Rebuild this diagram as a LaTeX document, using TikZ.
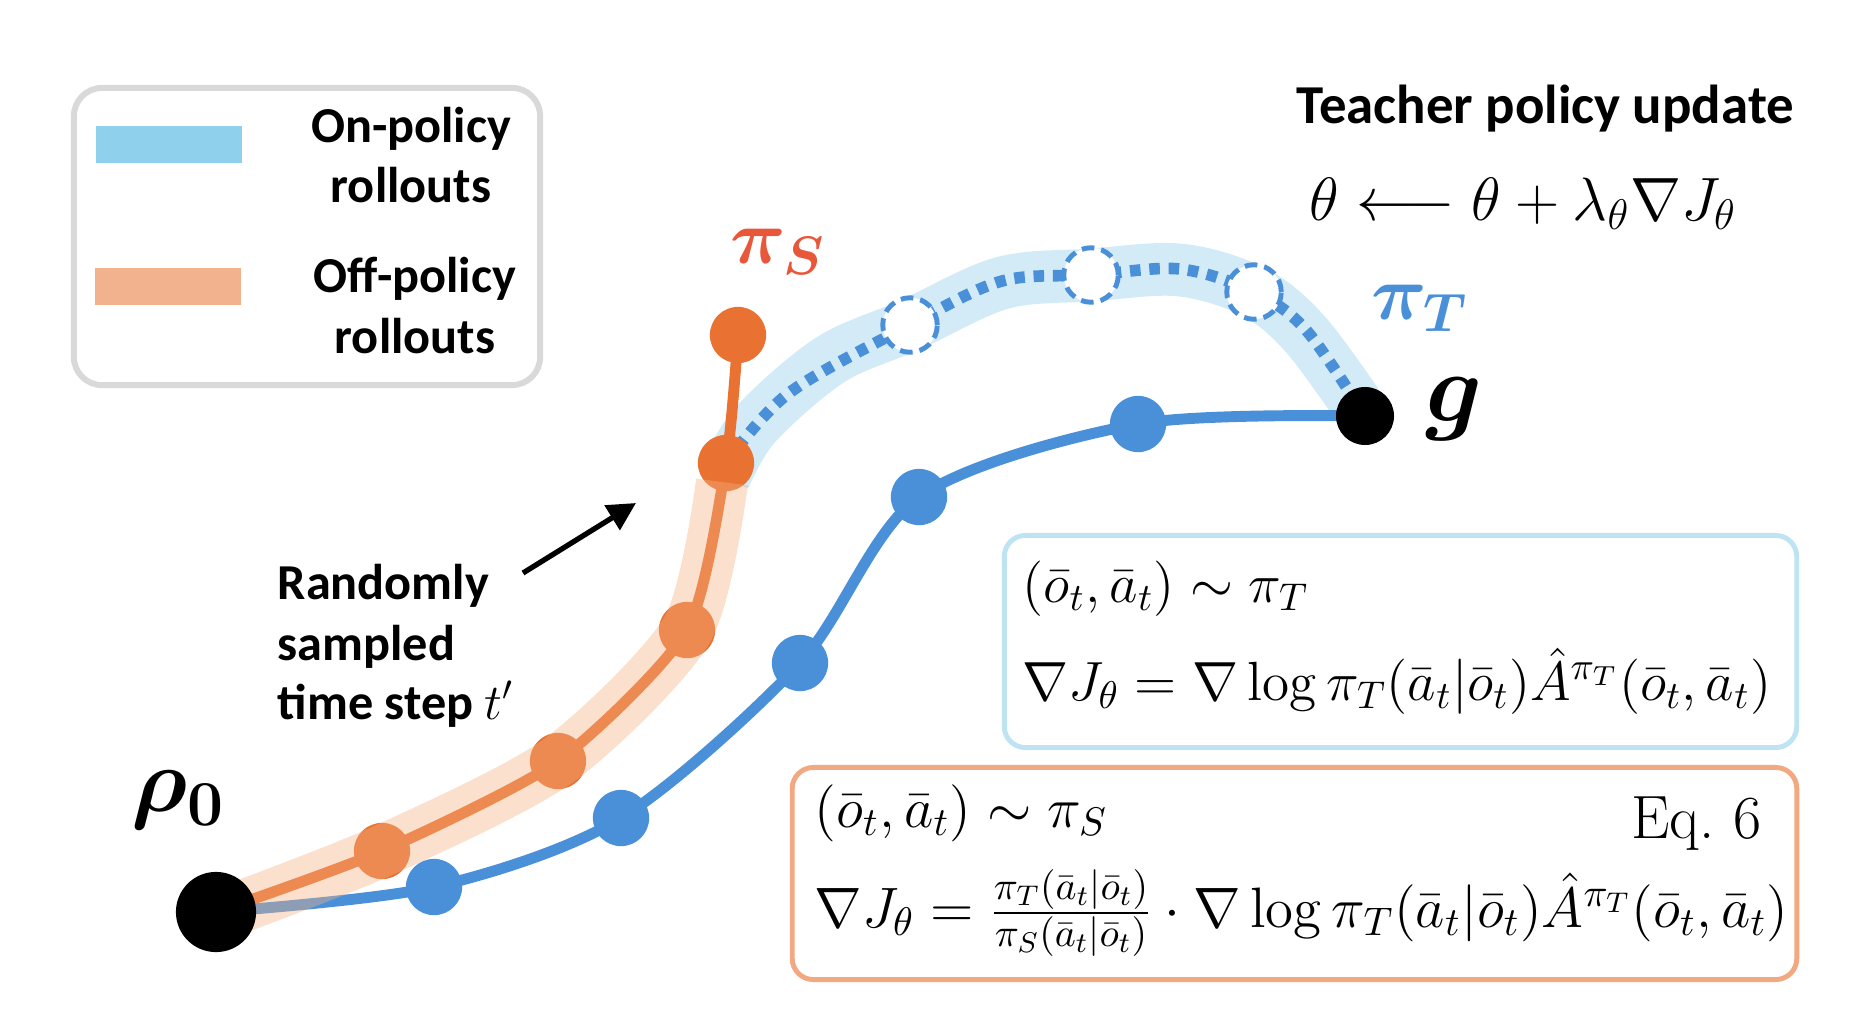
\RequirePackage{fix-cm}
\documentclass[tikz,border=0pt]{standalone}
\usepackage[no-math]{fontspec}
\newfontfamily\carlito{Carlito}
\usepackage{amsmath,bm}
\usetikzlibrary{arrows.meta}

\definecolor{tblue}{HTML}{4A90D9}
\definecolor{sorange}{HTML}{E97132}
\definecolor{bandblue}{HTML}{D2EBF7}
\definecolor{bandorange}{HTML}{F4B183}
\definecolor{legblue}{HTML}{8FD0EC}
\definecolor{legorange}{HTML}{F2B28E}
\definecolor{leggray}{HTML}{D9D9D9}
\definecolor{boxblue}{HTML}{BEE3F3}
\definecolor{boxorange}{HTML}{F2A880}
\definecolor{pisred}{HTML}{E8573A}

\begin{document}
\begin{tikzpicture}[x=0.01cm,y=-0.01cm,
  dot/.style={circle,inner sep=0pt,minimum size=16pt},
  bdot/.style={dot,fill=tblue},
  odot/.style={dot,fill=sorange},
  hollow/.style={circle,inner sep=0pt,minimum size=15.5pt,draw=tblue,fill=white,line width=1.4pt,dash pattern=on 3.6pt off 2pt},
  blackdot/.style={circle,inner sep=0pt,fill=black},
  legtext/.style={inner sep=0pt,font=\carlito\bfseries\fontsize{14.3}{17}\selectfont},
  mathtext/.style={inner sep=0pt,font=\fontsize{16.2}{19}\selectfont},
  bluemath/.style={inner sep=0pt,font=\fontsize{15.7}{19}\selectfont},
  eqbox/.style={rounded corners=6pt,line width=1.4pt,inner sep=0pt},
  solidpath/.style={line width=3.1pt,line cap=round},
  band/.style={line width=15pt,line cap=butt}
]
\useasboundingbox (0,0) rectangle (1849,1018);

% named positions
\coordinate (R0) at (216,912);
\coordinate (G) at (1365,416);
\coordinate (T1) at (434,887);
\coordinate (T2) at (621,818);
\coordinate (T3) at (800,663);
\coordinate (T4) at (919,497);
\coordinate (T5) at (1138,424);
\coordinate (S1) at (382,851);
\coordinate (S2) at (558,761);
\coordinate (S3) at (687,630);
\coordinate (S4) at (726,463);
\coordinate (S5) at (738,335);
\coordinate (H1) at (910,325);
\coordinate (H2) at (1091,275);
\coordinate (H3) at (1254,292);
\coordinate (BB0) at (724,478);

% on-policy band
\draw[bandblue,band] plot[smooth,tension=0.55] coordinates {(BB0) (755,425) (830,360) (H1) (1002,283) (H2) (1180,270) (H3) (1306,335) (G)};

% teacher rollout
\draw[tblue,solidpath] plot[smooth,tension=0.5] coordinates {(R0) (T1) (T2) (T3) (T4) (T5) (G)};
\node[bdot] (t1) at (T1) {};
\node[bdot] (t2) at (T2) {};
\node[bdot] (t3) at (T3) {};
\node[bdot] (t4) at (T4) {};
\node[bdot] (t5) at (T5) {};

% dotted teacher continuation
\draw[tblue,line width=3.3pt,dash pattern=on 3pt off 2.5pt] plot[smooth,tension=0.55] coordinates {(S4) (789,393) (H1) (1002,281) (H2) (1180,269) (H3) (1306,330) (G)};
\node[hollow] (h1) at (H1) {};
\node[hollow] (h2) at (H2) {};
\node[hollow] (h3) at (H3) {};

% student rollout
\draw[sorange,solidpath] plot[smooth,tension=0.4] coordinates {(R0) (S1) (S2) (S3) (S4) (S5)};
\node[odot] (s1) at (S1) {};
\node[odot] (s2) at (S2) {};
\node[odot] (s3) at (S3) {};
\node[odot] (s4) at (S4) {};
\node[odot] (s5) at (S5) {};

% off-policy band
\draw[bandorange,band,opacity=0.4,line width=14.8pt] plot[smooth,tension=0.45] coordinates {(232,910) (S1) (S2) (S3) (722,482)};

% start and goal
\node[blackdot,minimum size=22.8pt] (r0) at (R0) {};
\node[blackdot,minimum size=16.5pt] (g) at (G) {};

% labels
\node[font=\fontsize{26}{30}\selectfont] (lrho) at (178,800) {$\bm{\rho_0}$};
\node[font=\fontsize{28}{32}\selectfont] (lg) at (1454,409) {$\bm{g}$};
\node[text=pisred,font=\fontsize{22}{26}\selectfont] (lpiS) at (778,252) {$\bm{\pi_S}$};
\node[text=tblue,font=\fontsize{22}{26}\selectfont] (lpiT) at (1420,308) {$\bm{\pi_T}$};

% legend
\node[draw=leggray,line width=1.7pt,rounded corners=8pt,minimum width=4.66cm,minimum height=2.97cm,inner sep=0pt] (legend) at (307,236.5) {};
\node[fill=legblue,minimum width=1.46cm,minimum height=0.37cm,inner sep=0pt] (legb) at (169,144.5) {};
\node[fill=legorange,minimum width=1.46cm,minimum height=0.37cm,inner sep=0pt] (lego) at (168,286.5) {};
\node[legtext,anchor=base] (lon1) at (411,142) {On-policy};
\node[legtext,anchor=base] (lon2) at (411,202) {rollouts};
\node[legtext,anchor=base] (loff1) at (415,292) {Off-policy};
\node[legtext,anchor=base] (loff2) at (415,353) {rollouts};

% sampled time step annotation
\node[legtext,anchor=base west] (rand1) at (277,599) {Randomly};
\node[legtext,anchor=base west] (rand2) at (277,660) {sampled};
\node[legtext,anchor=base west] (rand3) at (277,719) {time step $t'$};
\coordinate (arrtail) at (523,573);
\coordinate (arrhead) at (636,503);
\draw[line width=1.5pt,-{Triangle[length=8pt,width=8pt]}] (arrtail) -- (arrhead);

% teacher update
\node[inner sep=0pt,font=\carlito\bfseries\fontsize{15.6}{18}\selectfont,anchor=base west] (title) at (1296,123) {Teacher policy update};
\node[inner sep=0pt,font=\fontsize{17.4}{20}\selectfont,anchor=base west] (upd) at (1309,220) {$\theta\longleftarrow\theta+\lambda_\theta\nabla J_\theta$};

% on-policy gradient box
\node[draw=boxblue,eqbox,minimum width=7.92cm,minimum height=2.12cm] (bluebox) at (1400.5,641.5) {};
\node[bluemath,anchor=base west] (bq1) at (1022,602) {$(\bar o_t,\bar a_t)\sim\pi_T$};
\node[bluemath,anchor=base west] (bq2) at (1022,700) {$\nabla J_\theta=\nabla\log\pi_T(\bar a_t|\bar o_t)\hat A^{\pi_T}(\bar o_t,\bar a_t)$};

% off-policy gradient box
\node[draw=boxorange,eqbox,minimum width=10.04cm,minimum height=2.12cm] (orangebox) at (1294.5,873.5) {};
\node[mathtext,anchor=base west] (oq1) at (814,827) {$(\bar o_t,\bar a_t)\sim\pi_S$};
\node[inner sep=0pt,font=\fontsize{17.4}{20}\selectfont,anchor=base east] (eqsix) at (1762,838) {Eq.~6};
\node[mathtext,anchor=base west] (oq2) at (814,927) {$\nabla J_\theta=\frac{\pi_T(\bar a_t|\bar o_t)}{\pi_S(\bar a_t|\bar o_t)}\cdot\nabla\log\pi_T(\bar a_t|\bar o_t)\hat A^{\pi_T}(\bar o_t,\bar a_t)$};
\end{tikzpicture}
\end{document}
